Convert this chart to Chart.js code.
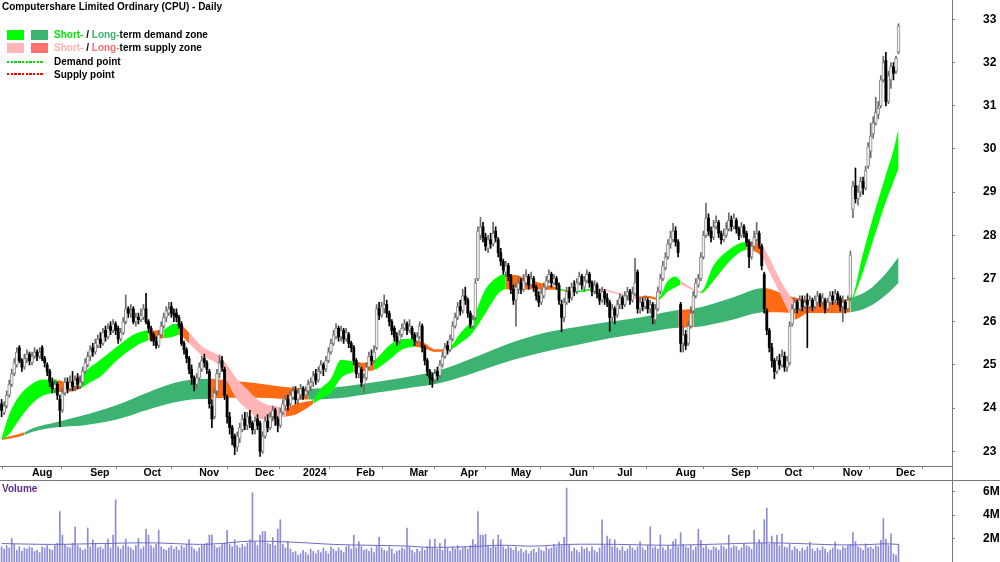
<!DOCTYPE html>
<html><head><meta charset="utf-8">
<script src="https://cdn.jsdelivr.net/npm/chart.js@4.4.1/dist/chart.umd.min.js"></script>
<style>
html,body{margin:0;padding:0;background:#fff;}
#wrap{position:relative;width:1000px;height:562px;overflow:hidden;font-family:"Liberation Sans",Arial,Helvetica,sans-serif;background:#fff;}
canvas{position:absolute;left:0;}
#pc{top:0}
#vc{top:481px}
.t{position:absolute;font-weight:bold;font-size:10px;line-height:12px;white-space:nowrap;color:#000;}
.sw{position:absolute;width:17px;height:10px;}
.dl{position:absolute;height:2px;width:37px;}
</style></head>
<body><div id="wrap">
<canvas id="pc" width="1000" height="481"></canvas>
<canvas id="vc" width="1000" height="81"></canvas>
<div class="t" style="left:2px;top:1px">Computershare Limited Ordinary (CPU) - Daily</div>
<div class="sw" style="left:7px;top:30px;background:#00ff00"></div>
<div class="sw" style="left:31px;top:30px;background:#3cb371"></div>
<div class="t" style="left:54px;top:29px"><span style="color:#00e600">Short-</span> / <span style="color:#3cb371">Long-</span>term demand zone</div>
<div class="sw" style="left:7px;top:43px;background:#ffb6b6"></div>
<div class="sw" style="left:31px;top:43px;background:#ff7070"></div>
<div class="t" style="left:54px;top:42px"><span style="color:#ffb0b0">Short-</span> / <span style="color:#ff6f6f">Long-</span>term supply zone</div>
<div class="dl" style="left:7px;top:61px;background:repeating-linear-gradient(90deg,#00e000 0 2.4px,transparent 2.4px 3.7px)"></div>
<div class="t" style="left:54px;top:56px">Demand point</div>
<div class="dl" style="left:7px;top:73px;background:repeating-linear-gradient(90deg,#ff0000 0 2.4px,transparent 2.4px 3.7px)"></div>
<div class="t" style="left:54px;top:69px">Supply point</div>
<div class="t" style="left:2px;top:483px;color:#5b2a8c">Volume</div>
</div>
<script>
// ---- tick labels ----
const monthIdx = [12,35,56,78,100,119,140,161,181,201,224,243,266,288,309,332,353];
const monthLabels = ['Aug','Sep','Oct','Nov','Dec','2024','Feb','Mar','Apr','May','Jun','Jul','Aug','Sep','Oct','Nov','Dec'];
const priceTicks = [23,24,25,26,27,28,29,30,31,32,33];
const volTicks = [2,4,6];

// ---- daily OHLC (trading day index 0 = mid Jul 2023) ----
const open = [
24.1,23.9,24.05,24.3,24.55,24.8,25.0,25.4,25.1,24.95,
25.15,25.25,25.05,25.2,25.3,25.2,25.4,25.15,25.0,24.85,
24.6,24.45,24.55,24.2,23.95,24.35,24.6,24.45,24.6,24.5,
24.7,24.5,24.6,24.85,25.0,25.2,25.4,25.3,25.45,25.6,
25.5,25.8,25.65,25.9,25.8,25.95,25.85,25.6,25.75,26.0,
26.3,26.2,26.3,26.0,26.1,26.05,26.1,26.3,26.0,25.85,
25.7,25.55,25.45,25.7,25.9,26.1,26.2,26.35,26.2,26.2,
26.1,25.95,25.5,25.35,25.15,24.9,24.7,24.55,24.7,24.9,
25.15,25.05,24.85,24.05,23.8,24.4,24.8,25.1,24.9,24.25,
23.8,23.55,23.35,23.1,23.3,23.5,23.75,23.6,23.8,23.65,
23.5,23.75,23.65,23.0,23.35,23.7,23.55,23.8,23.95,23.75,
23.6,23.9,24.05,24.2,24.1,24.25,24.4,24.2,24.3,24.45,
24.3,24.4,24.5,24.6,24.8,24.65,24.85,25.0,24.9,25.1,
25.3,25.5,25.65,25.85,25.65,25.8,25.6,25.7,25.5,25.4,
25.1,24.8,24.9,24.55,24.7,24.95,25.2,25.1,25.4,26.3,
26.15,26.3,26.4,26.2,26.0,25.85,25.65,25.55,25.7,25.85,
25.95,25.8,25.85,25.7,25.55,25.65,25.9,25.4,25.1,24.85,
24.7,24.65,24.85,24.75,25.0,25.2,25.45,25.35,25.6,25.9,
26.1,26.35,26.25,26.6,26.5,26.2,25.9,26.1,27.0,28.0,
28.2,27.95,27.7,27.9,27.8,28.1,27.9,27.6,27.4,27.15,
27.3,27.05,26.75,26.5,26.75,26.9,26.75,26.9,27.05,26.85,
27.0,26.8,26.6,26.45,26.6,26.8,26.95,27.1,26.9,27.0,
26.85,26.4,26.1,26.45,26.7,26.55,26.8,26.7,26.9,27.05,
26.8,26.95,27.1,26.9,26.7,26.85,26.65,26.5,26.7,26.55,
26.45,26.1,26.3,26.15,26.4,26.55,26.4,26.6,26.7,26.5,
26.65,27.15,26.3,26.45,26.35,26.5,26.3,26.4,26.05,26.3,
26.7,27.0,27.25,27.5,27.8,27.9,28.1,27.85,26.4,25.5,
25.7,25.5,25.9,26.25,26.6,26.85,27.0,27.5,28.0,28.4,
28.1,27.95,28.2,28.3,28.05,27.9,28.0,28.15,28.35,28.2,
28.35,28.15,28.0,28.2,28.05,27.85,27.5,27.75,27.9,28.05,
27.75,27.1,26.25,25.8,25.4,25.1,24.85,25.1,25.0,25.2,
24.95,25.05,25.95,26.3,26.45,26.3,26.5,26.35,26.5,26.35,
26.5,26.35,26.45,26.6,26.45,26.5,26.3,26.45,26.6,26.5,
26.65,26.55,26.35,26.45,26.3,26.55,28.6,29.15,28.85,29.0,
29.25,29.1,29.6,29.95,30.35,30.6,30.8,31.0,31.6,32.05,
31.1,31.6,31.9,31.8,32.25];
const high = [
24.2,24.15,24.4,24.65,24.9,25.15,25.4,25.45,25.15,25.25,
25.35,25.3,25.3,25.4,25.35,25.4,25.45,25.2,25.05,24.9,
24.7,24.65,24.6,24.3,24.45,24.7,24.7,24.75,24.85,24.75,
24.8,24.75,24.95,25.15,25.3,25.45,25.5,25.6,25.7,25.75,
25.85,25.9,25.95,26.0,26.05,26.0,25.9,25.85,26.1,26.62,
26.35,26.4,26.35,26.2,26.2,26.3,26.4,26.66,26.05,25.9,
25.75,25.65,25.8,26.0,26.2,26.35,26.45,26.45,26.3,26.3,
26.15,26.0,25.55,25.4,25.2,25.0,24.75,24.8,25.05,25.2,
25.25,25.1,24.9,24.2,24.45,24.9,25.23,25.2,24.95,24.3,
23.9,23.6,23.4,23.45,23.65,23.85,23.9,23.9,23.95,23.7,
23.8,23.85,23.7,23.45,23.8,23.85,23.9,24.05,24.0,23.8,
24.0,24.2,24.3,24.3,24.4,24.5,24.5,24.45,24.55,24.5,
24.5,24.65,24.7,24.85,24.9,24.95,25.1,25.05,25.2,25.4,
25.6,25.8,25.96,25.9,25.9,25.85,25.85,25.75,25.55,25.45,
25.15,25.05,24.95,24.8,25.05,25.3,25.35,25.45,26.4,26.45,
26.45,26.62,26.5,26.25,26.05,25.9,25.75,25.8,25.95,26.05,
26.0,26.05,25.9,25.75,25.75,26.0,25.95,25.45,25.15,24.9,
24.8,24.9,24.95,25.1,25.3,25.5,25.55,25.7,26.0,26.2,
26.45,26.5,26.75,26.8,26.55,26.25,26.15,27.0,28.2,28.42,
28.3,28.05,28.0,28.05,28.3,28.2,27.95,27.7,27.45,27.4,
27.35,27.1,26.85,26.9,27.05,27.0,27.1,27.2,27.1,27.15,
27.05,26.85,26.7,26.75,26.9,27.05,27.2,27.15,27.1,27.05,
26.9,26.5,26.55,26.8,26.8,26.9,26.95,27.0,27.15,27.1,
27.05,27.2,27.15,26.95,26.95,26.9,26.75,26.8,26.75,26.65,
26.5,26.4,26.35,26.5,26.65,26.6,26.7,26.8,26.75,26.8,
27.47,27.2,26.55,26.55,26.6,26.55,26.5,26.45,26.4,26.8,
27.1,27.4,27.6,27.9,28.1,28.28,28.2,27.9,26.45,25.9,
25.8,26.0,26.35,26.7,27.0,27.1,27.6,28.1,28.75,28.5,
28.2,28.35,28.45,28.35,28.1,28.15,28.3,28.52,28.45,28.5,
28.4,28.2,28.3,28.25,28.1,27.9,27.85,28.1,28.3,28.1,
27.8,27.15,26.3,25.85,25.5,25.15,25.2,25.25,25.35,25.3,
25.2,26.0,26.4,26.55,26.5,26.6,26.6,26.6,26.65,26.6,
26.55,26.6,26.7,26.65,26.65,26.55,26.55,26.7,26.7,26.75,
26.7,26.6,26.6,26.5,26.6,27.64,29.25,29.56,29.15,29.35,
29.35,29.6,30.15,30.6,30.75,31.2,31.1,31.7,32.15,32.24,
31.8,32.0,32.0,32.15,32.9];
const low = [
23.8,23.85,24.0,24.25,24.5,24.75,24.95,25.05,24.85,24.9,
25.05,25.0,25.0,25.15,25.1,25.15,25.1,24.95,24.75,24.5,
24.35,24.35,24.2,23.57,23.9,24.3,24.35,24.4,24.4,24.4,
24.45,24.45,24.55,24.8,24.95,25.1,25.2,25.25,25.4,25.4,
25.45,25.55,25.6,25.7,25.75,25.7,25.5,25.55,25.7,25.95,
26.1,26.1,25.95,25.9,25.95,26.0,26.05,25.95,25.75,25.55,
25.45,25.38,25.4,25.65,25.85,26.0,26.15,26.1,26.0,26.0,
25.85,25.45,25.25,25.05,24.8,24.55,24.4,24.45,24.65,24.85,
24.95,24.8,24.0,23.55,23.75,24.3,24.7,24.85,24.2,23.65,
23.4,23.15,22.92,23.0,23.2,23.45,23.5,23.5,23.55,23.4,
23.4,23.5,22.88,22.95,23.3,23.45,23.5,23.7,23.6,23.45,
23.55,23.85,23.95,23.95,24.05,24.2,24.1,24.1,24.2,24.2,
24.25,24.3,24.4,24.5,24.55,24.6,24.8,24.75,24.85,25.05,
25.25,25.45,25.6,25.55,25.55,25.5,25.55,25.4,25.3,25.0,
24.7,24.7,24.5,24.35,24.65,24.9,25.0,25.05,25.35,26.05,
26.1,26.2,26.1,25.9,25.7,25.55,25.45,25.5,25.65,25.8,
25.7,25.75,25.6,25.45,25.5,25.6,25.3,25.0,24.75,24.55,
24.48,24.6,24.65,24.7,24.95,25.15,25.25,25.3,25.55,25.85,
26.05,26.15,26.2,26.4,26.1,25.85,25.85,26.05,26.95,27.9,
27.85,27.65,27.6,27.7,27.75,27.85,27.5,27.3,27.1,27.05,
26.95,26.65,26.4,25.9,26.65,26.65,26.7,26.85,26.75,26.8,
26.7,26.5,26.35,26.4,26.55,26.75,26.9,26.8,26.85,26.75,
26.4,25.77,26.0,26.4,26.45,26.5,26.6,26.65,26.85,26.75,
26.7,26.9,26.8,26.6,26.65,26.55,26.4,26.45,26.4,26.35,
25.78,26.0,25.95,26.1,26.3,26.3,26.35,26.5,26.4,26.45,
26.6,26.2,26.2,26.25,26.3,26.2,26.2,25.95,25.95,26.25,
26.65,26.95,27.2,27.45,27.7,27.85,27.75,27.5,25.3,25.3,
25.35,25.45,25.85,26.2,26.55,26.8,26.95,27.45,27.95,28.0,
27.85,27.9,28.15,27.95,27.8,27.85,27.95,28.1,28.1,28.15,
28.05,27.9,27.95,27.95,27.75,27.25,27.45,27.7,27.85,27.7,
27.2,26.2,25.7,25.3,24.95,24.68,24.8,24.9,24.95,24.85,
24.85,25.0,25.9,26.2,26.2,26.25,26.25,26.3,25.4,26.3,
26.25,26.3,26.4,26.35,26.4,26.2,26.25,26.4,26.4,26.45,
26.4,26.25,26.0,26.2,26.25,26.5,28.41,28.75,28.7,28.9,
28.95,29.05,29.55,29.8,30.25,30.55,30.7,30.95,31.55,31.0,
31.05,31.4,31.6,31.75,32.2];
const close = [
23.95,24.05,24.3,24.55,24.8,25.05,25.3,25.1,24.95,25.15,
25.25,25.1,25.2,25.3,25.2,25.3,25.15,25.05,24.85,24.6,
24.45,24.55,24.3,23.95,24.35,24.6,24.45,24.6,24.5,24.65,
24.55,24.6,24.85,25.05,25.2,25.35,25.3,25.5,25.6,25.5,
25.75,25.65,25.85,25.8,25.95,25.8,25.6,25.75,26.0,26.3,
26.2,26.25,26.0,26.1,26.05,26.15,26.3,26.0,25.85,25.7,
25.55,25.45,25.7,25.9,26.1,26.25,26.3,26.2,26.15,26.1,
25.9,25.5,25.35,25.15,24.9,24.7,24.55,24.7,24.95,25.1,
25.05,24.9,24.1,23.75,24.35,24.8,25.05,24.95,24.3,23.8,
23.55,23.3,23.1,23.35,23.55,23.75,23.6,23.8,23.65,23.5,
23.7,23.6,23.0,23.35,23.7,23.55,23.8,23.95,23.75,23.6,
23.9,24.1,24.2,24.05,24.3,24.4,24.2,24.35,24.45,24.3,
24.4,24.55,24.6,24.75,24.65,24.85,25.0,24.9,25.1,25.3,
25.5,25.7,25.85,25.65,25.8,25.6,25.75,25.5,25.4,25.1,
24.8,24.95,24.6,24.7,24.95,25.2,25.1,25.3,26.3,26.15,
26.35,26.4,26.2,26.0,25.8,25.65,25.55,25.7,25.85,25.95,
25.8,25.9,25.7,25.55,25.65,25.9,25.4,25.1,24.85,24.7,
24.65,24.8,24.75,25.0,25.2,25.4,25.35,25.6,25.9,26.1,
26.35,26.25,26.6,26.5,26.2,25.95,26.05,26.9,28.1,28.2,
27.95,27.75,27.9,27.8,28.05,27.95,27.6,27.4,27.2,27.3,
27.05,26.75,26.5,26.8,26.9,26.75,26.95,27.05,26.85,27.0,
26.8,26.6,26.45,26.65,26.8,26.95,27.1,26.9,27.0,26.85,
26.5,26.1,26.45,26.7,26.55,26.8,26.7,26.9,27.05,26.85,
26.95,27.1,26.9,26.7,26.85,26.65,26.5,26.7,26.55,26.45,
26.1,26.3,26.15,26.4,26.55,26.4,26.6,26.7,26.5,26.65,
26.9,26.3,26.45,26.35,26.5,26.3,26.4,26.1,26.3,26.7,
27.0,27.3,27.5,27.8,27.95,28.1,27.85,27.6,25.5,25.7,
25.45,25.9,26.2,26.6,26.9,27.0,27.5,28.0,28.4,28.1,
27.95,28.2,28.3,28.05,27.9,28.0,28.15,28.35,28.2,28.4,
28.15,28.0,28.2,28.05,27.85,27.5,27.75,27.95,28.05,27.8,
27.3,26.3,25.8,25.4,25.1,24.85,25.1,25.0,25.2,24.95,
25.1,25.9,26.3,26.45,26.3,26.5,26.35,26.45,26.4,26.5,
26.35,26.5,26.6,26.45,26.55,26.3,26.45,26.6,26.5,26.65,
26.5,26.35,26.45,26.3,26.5,27.55,29.15,28.85,29.0,29.25,
29.1,29.5,30.05,30.3,30.6,30.85,30.95,31.6,32.0,31.1,
31.7,31.9,31.75,32.1,32.85];

// ---- daily volume (millions) ----
const volume = [
1.3,1.1,1.4,1.2,2.0,1.5,1.0,1.3,0.9,1.2,
1.1,1.3,1.2,0.9,1.0,0.8,1.3,1.2,1.4,1.1,
1.0,1.4,1.6,4.3,2.3,1.5,1.3,1.2,1.6,3.0,
1.4,1.2,1.0,1.1,2.9,1.3,1.9,1.6,1.2,1.3,
1.1,1.5,1.95,1.2,2.3,5.3,1.3,1.1,1.4,1.95,
1.3,1.2,1.0,1.4,2.0,1.1,1.3,2.8,2.3,1.4,
1.2,1.5,2.7,1.3,1.1,1.0,1.2,1.4,1.1,1.3,
1.0,1.4,1.2,1.5,1.9,1.3,1.1,0.9,1.2,1.4,
1.5,1.6,2.3,2.3,1.4,1.2,1.3,1.5,1.6,2.7,
1.5,1.3,1.9,1.4,1.2,1.5,1.3,1.6,1.9,5.9,
1.7,1.4,2.3,2.6,2.6,1.6,1.5,2.1,1.4,2.8,
3.6,1.5,1.2,1.75,1.1,0.8,0.9,0.6,0.7,1.0,
0.8,0.6,1.1,0.9,0.7,1.0,0.8,1.2,0.9,0.7,
1.3,1.1,0.9,1.2,1.0,0.8,1.3,1.4,1.1,2.3,
1.2,1.75,1.3,1.0,1.1,0.9,1.2,0.8,1.4,2.1,
1.2,1.0,0.9,1.3,1.1,0.7,0.9,1.0,1.2,1.1,
2.9,1.3,1.0,0.8,1.1,0.9,1.2,1.0,1.3,1.9,
1.2,1.95,1.1,1.6,1.0,1.95,1.2,0.9,1.3,1.1,
1.4,1.0,1.2,1.3,1.1,1.4,1.9,1.5,4.3,2.3,
2.3,2.35,1.4,1.2,1.9,1.3,2.3,1.9,1.3,1.1,
1.4,1.2,1.0,1.3,0.9,1.1,0.8,1.0,0.7,0.9,
1.1,0.8,1.2,1.0,0.9,1.3,1.1,1.2,1.5,1.3,
1.7,1.4,2.1,6.3,1.5,0.9,1.2,1.0,0.8,1.3,
1.1,1.2,0.9,1.3,1.0,0.8,1.2,3.6,1.4,2.2,
1.95,1.3,1.9,1.2,1.0,1.3,0.9,1.1,1.4,1.2,
1.0,1.3,1.75,1.2,1.0,1.4,3.0,1.2,1.3,1.1,
2.3,1.2,1.0,1.4,1.1,1.75,1.95,1.3,2.5,1.5,
1.3,1.2,1.4,1.0,1.3,2.8,1.85,1.2,1.4,1.1,
1.0,1.3,1.2,1.0,1.4,1.3,1.1,2.3,1.2,1.4,
1.3,1.0,1.2,1.5,1.4,1.3,1.1,2.7,1.5,1.9,
1.6,3.6,4.6,1.5,2.2,1.6,2.3,1.4,2.4,1.3,
1.2,1.5,1.0,1.3,1.1,0.9,1.2,1.0,1.3,1.7,
1.1,0.9,1.2,1.0,1.3,1.1,0.8,1.0,1.2,1.7,
1.1,1.0,1.3,1.2,1.4,1.5,2.5,1.75,1.3,1.2,
1.0,1.55,1.2,1.3,1.1,1.4,1.3,1.85,3.7,1.95,
1.4,2.4,0.7,0.6,1.5];

// ---- volume moving average, read at sample days (millions) ----
const volMAX = [0,20,39,59,78,86,98,114,131,144,161,168,184,197,210,224,243,263,287,302,315,328,341,348,354];
const volMA  = [1.57,1.5,1.57,1.63,1.5,1.57,1.77,1.7,1.5,1.43,1.35,1.25,1.3,1.43,1.35,1.5,1.5,1.43,1.55,1.63,1.57,1.47,1.47,1.55,1.5];

// ---- short-term zone edges, read at sample days ----
const shortX  = [0,3,6,9,12,16,20,22,26,31,35,39,45,52,58,61,64,68,70,74,79,86,89,93,97,101,105,109,112,116,120,123,126,130,134,139,143,147,153,158,163,167,171,176,181,186,191,196,199,203,208,214,219,222,227,235,243,250,255,259,263,266,268,272,276,281,287,294,300,303,307,311,313,318,325,330,335,340,344,349,352,354];
const shortUp = [23.3,23.85,24.2,24.42,24.56,24.66,24.66,24.65,24.6,24.75,24.95,25.12,25.4,25.7,25.8,25.8,25.82,25.95,25.95,25.75,25.43,25.2,25.0,24.66,24.43,24.2,24.08,24.04,24.0,24.1,24.15,24.2,24.45,24.68,25.12,25.08,25.05,25.1,25.45,25.6,25.6,25.5,25.36,25.38,25.73,26.08,26.75,27.05,27.1,27.08,26.98,26.88,26.8,26.74,26.72,26.78,26.68,26.58,26.6,26.55,26.95,27.05,26.95,26.8,26.7,27.3,27.66,27.85,27.78,27.48,27.0,26.62,26.46,26.42,26.42,26.45,26.5,27.58,28.43,29.4,29.97,30.47];
const shortLo = [23.25,23.4,23.65,23.9,24.1,24.28,24.35,24.37,24.38,24.45,24.6,24.73,25.08,25.4,25.57,25.6,25.62,25.66,25.7,25.5,25.22,24.97,24.62,24.2,23.97,23.78,23.74,23.78,23.8,23.85,23.98,24.1,24.22,24.35,24.7,24.83,24.85,24.88,25.12,25.35,25.42,25.38,25.3,25.32,25.5,25.75,26.2,26.65,26.75,26.73,26.75,26.74,26.74,26.7,26.68,26.74,26.64,26.54,26.55,26.5,26.7,26.8,26.85,26.75,26.66,26.95,27.38,27.66,27.5,27.15,26.68,26.2,26.05,26.2,26.25,26.28,26.43,27.16,27.89,28.78,29.24,29.55];
// zone state from each sample to the next: G demand, P supply, O turning
const shortZone = ('GGGGGGGOOG'+'GGGGOOGGOP'+'PPPPPPPPOO'+'OGGGGOOGGG'+'OOOGGGGGOO'+'OOGOGPPOOG'+'GGPPGGGOPP'+'PPOOOOGGGG'+'GG').split('');

// ---- long-term zone edges, read at sample days ----
const longX  = [0,4,9,12,22,32,45,58,68,75,82,90,100,110,121,133,147,160,173,186,202,214,227,240,253,267,273,288,301,307,314,327,335,342,349,354];
const longUp = [23.3,23.36,23.44,23.53,23.68,23.83,24.06,24.37,24.58,24.66,24.68,24.64,24.58,24.5,24.45,24.49,24.6,24.72,24.88,25.16,25.53,25.74,25.88,26.0,26.11,26.27,26.3,26.55,26.78,26.68,26.55,26.45,26.55,26.73,27.12,27.5];
const longLo = [23.26,23.3,23.38,23.45,23.56,23.6,23.73,23.97,24.13,24.2,24.22,24.24,24.24,24.22,24.2,24.23,24.35,24.46,24.58,24.81,25.12,25.3,25.46,25.62,25.74,25.86,25.87,26.04,26.22,26.22,26.2,26.2,26.22,26.34,26.62,26.9];
const longZone = ('SSDDDDDDDD'+'SSSSDDDDDD'+'DDDDDSDDSS'+'SSDDDD').split('');

// ---- styling ----
const FONT = '"Liberation Sans", Arial, Helvetica, sans-serif';
Chart.defaults.font.family = FONT;
Chart.defaults.color = '#000';
const ZC = {G:'#00ff00', P:'#ffb5b5', O:'#ff6a13', D:'#3cb371', S:'#ff6a13'};
const X_MIN = -0.63, X_MAX = 375.1, AXIS_W = 48;
const Y_MIN = 22.66, Y_MAX = 33.45;

const pts = (xs, ys, k) => xs.map((x, i) => ({x: x, y: ys[i] * (k || 1)}));
const bandEdge = (xs, ys, order) => ({type:'line', data: pts(xs, ys), borderColor:'rgba(0,0,0,0)', borderWidth:0,
  pointRadius:0, cubicInterpolationMode:'monotone', fill:false, order});
const bandFill = (xs, ys, zone, order) => ({type:'line', data: pts(xs, ys), borderColor:'rgba(0,0,0,0)', borderWidth:0,
  pointRadius:0, cubicInterpolationMode:'monotone', fill:'-1', backgroundColor: ZC[zone[0]],
  segment:{backgroundColor: c => ZC[zone[c.p0DataIndex]]}, order});

const isUp = close.map((c, i) => c >= open[i]);
const wickData = close.map((c, i) => ({x:i, y:[low[i], high[i]]}));
const upBody = [], downBody = [];
close.forEach((c, i) => {
  const b = {x:i, y:[Math.min(open[i], c), Math.max(open[i], c)]};
  (isUp[i] ? upBody : downBody).push(b);
});

const framePrice = {id:'framePrice', afterDraw(chart){
  const ctx = chart.ctx, a = chart.chartArea;
  ctx.save(); ctx.lineWidth = 1; ctx.strokeStyle = '#777';
  ctx.beginPath();
  ctx.moveTo(0, a.bottom + 0.5); ctx.lineTo(a.right, a.bottom + 0.5);
  ctx.moveTo(0, chart.height - 0.5); ctx.lineTo(chart.width, chart.height - 0.5);
  ctx.moveTo(a.right + 0.5, 0); ctx.lineTo(a.right + 0.5, chart.height);
  ctx.stroke(); ctx.restore();
}};
const frameVol = {id:'frameVol', afterDraw(chart){
  const ctx = chart.ctx, a = chart.chartArea;
  ctx.save(); ctx.lineWidth = 1; ctx.strokeStyle = '#777';
  ctx.beginPath(); ctx.moveTo(a.right + 0.5, 0); ctx.lineTo(a.right + 0.5, chart.height); ctx.stroke(); ctx.restore();
}};

const yAxisCommon = {
  position:'right',
  grid:{display:true, drawOnChartArea:false, drawTicks:true, tickLength:3, color:'#808080'},
  border:{display:false},
  afterFit: a => { a.width = AXIS_W; a.paddingTop = 0; a.paddingBottom = 0; }
};

new Chart(document.getElementById('pc'), {
  type:'bar',
  data:{datasets:[
    bandEdge(longX, longUp, 6),
    bandFill(longX, longLo, longZone, 6),
    bandEdge(shortX, shortUp, 5),
    bandFill(shortX, shortLo, shortZone, 5),
    {type:'bar', data: wickData, backgroundColor: isUp.map(u => u ? '#6a6a6a' : '#000'), barThickness:1, grouped:false, order:3},
    {type:'bar', data: upBody, backgroundColor:'#f2f2f2', borderColor:'#8a8a8a', borderWidth:1, borderSkipped:false,
      barThickness:3, grouped:false, minBarLength:2, order:2},
    {type:'bar', data: downBody, backgroundColor:'#000', barThickness:2.2, grouped:false, minBarLength:1, order:1}
  ]},
  options:{
    responsive:false, animation:false, devicePixelRatio:1, events:[],
    layout:{padding:0, autoPadding:false},
    plugins:{legend:{display:false}, tooltip:{enabled:false}},
    scales:{
      x:{type:'linear', position:'bottom', min:X_MIN, max:X_MAX, offset:false,
        afterBuildTicks: a => { a.ticks = monthIdx.map(v => ({value:v})); },
        afterFit: a => { a.height = 15; a.paddingLeft = 0; a.paddingRight = 0; },
        grid:{display:true, drawOnChartArea:false, drawTicks:true, tickLength:3, color:'#808080'},
        border:{display:false},
        ticks:{autoSkip:false, maxRotation:0, minRotation:0, align:'start', padding:-1, color:'#000',
          font:{size:10.5, weight:'bold', lineHeight:1},
          callback: (v, i) => monthLabels[monthIdx.indexOf(v)]}},
      y:Object.assign({}, yAxisCommon, {type:'linear', min:Y_MIN, max:Y_MAX,
        afterBuildTicks: a => { a.ticks = priceTicks.map(v => ({value:v})); },
        ticks:{padding:28, color:'#000', font:{size:12, weight:'bold'}, callback: v => String(v)}})
    }
  },
  plugins:[framePrice]
});

new Chart(document.getElementById('vc'), {
  type:'bar',
  data:{datasets:[
    {type:'line', data: pts(volMAX, volMA, 1e6), borderColor:'#6b6bc6', borderWidth:1, pointRadius:0, tension:0.35, order:1},
    {type:'bar', data: volume.map((v, i) => ({x:i, y:v * 1e6})), backgroundColor:'#8c8cd9', barThickness:1, order:2}
  ]},
  options:{
    responsive:false, animation:false, devicePixelRatio:1, events:[],
    layout:{padding:0, autoPadding:false},
    plugins:{legend:{display:false}, tooltip:{enabled:false}},
    scales:{
      x:{type:'linear', display:false, min:X_MIN, max:X_MAX, offset:false},
      y:Object.assign({}, yAxisCommon, {type:'linear', min:0, max:6.9e6,
        afterBuildTicks: a => { a.ticks = volTicks.map(v => ({value:v * 1e6})); },
        ticks:{padding:28, color:'#000', font:{size:12, weight:'bold'}, callback: v => (v / 1e6) + 'M'}})
    }
  },
  plugins:[frameVol]
});
</script>
</body></html>
